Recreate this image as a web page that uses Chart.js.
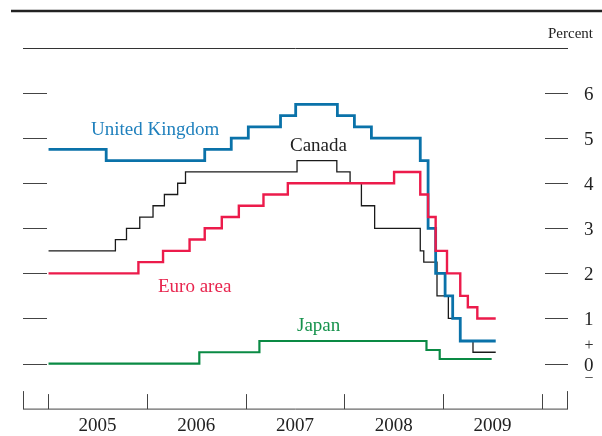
<!DOCTYPE html>
<html>
<head>
<meta charset="utf-8">
<script src="https://cdn.jsdelivr.net/npm/chart.js@4/dist/chart.umd.min.js"></script>
<style>
  body { margin: 0; background: #fff; }
  canvas { display: block; }
</style>
</head>
<body>
<canvas id="rates" width="602" height="436"></canvas>
<script>
// policy rate change dates and the new rate (last entry = end of the line)
const ukDates = ['2005-01-03', '2005-08-04', '2006-08-03', '2006-11-09', '2007-01-11', '2007-05-10', '2007-07-05',
  '2007-12-06', '2008-02-07', '2008-04-10', '2008-10-08', '2008-11-06', '2008-12-04', '2009-01-08',
  '2009-02-05', '2009-03-05', '2009-07-14'];
const ukRates = [4.75, 4.5, 4.75, 5.0, 5.25, 5.5, 5.75, 5.5, 5.25, 5.0, 4.5, 3.0, 2.0, 1.5, 1.0, 0.5, 0.5];

const canadaDates = ['2005-01-03', '2005-09-07', '2005-10-18', '2005-12-06', '2006-01-24', '2006-03-07', '2006-04-25',
  '2006-05-24', '2007-07-10', '2007-12-04', '2008-01-22', '2008-03-04', '2008-04-22', '2008-10-08',
  '2008-10-21', '2008-12-09', '2009-01-20', '2009-03-03', '2009-04-21', '2009-07-14'];
const canadaRates = [2.5, 2.75, 3.0, 3.25, 3.5, 3.75, 4.0, 4.25, 4.5, 4.25, 4.0, 3.5, 3.0, 2.5, 2.25, 1.5, 1.0, 0.5, 0.25, 0.25];

const euroDates = ['2005-01-03', '2005-12-01', '2006-03-02', '2006-06-08', '2006-08-03', '2006-10-05', '2006-12-07',
  '2007-03-08', '2007-06-06', '2008-07-03', '2008-10-08', '2008-11-06', '2008-12-04', '2009-01-15',
  '2009-03-05', '2009-04-02', '2009-05-07', '2009-07-14'];
const euroRates = [2.0, 2.25, 2.5, 2.75, 3.0, 3.25, 3.5, 3.75, 4.0, 4.25, 3.75, 3.25, 2.5, 2.0, 1.5, 1.25, 1.0, 1.0];

const japanDates = ['2005-01-03', '2006-07-14', '2007-02-21', '2008-10-31', '2008-12-19', '2009-06-29'];
const japanRates = [0, 0.25, 0.5, 0.3, 0.1, 0.1];

const yearTicks = [2005, 2006, 2007, 2008, 2009, 2010];
const yearLabels = [2005, 2006, 2007, 2008, 2009];
const percentTicks = [0, 1, 2, 3, 4, 5, 6];

function toYear(s) {
  const [y, m, d] = s.split('-').map(Number);
  const start = Date.UTC(y, 0, 1);
  const end = Date.UTC(y + 1, 0, 1);
  return y + (Date.UTC(y, m - 1, d) - start) / (end - start);
}
function series(dates, rates) {
  return dates.map((d, i) => ({ x: toYear(d), y: rates[i] }));
}

const serif = '"Liberation Serif", "DejaVu Serif", serif';

const decor = {
  id: 'decor',
  afterDraw(chart) {
    const ctx = chart.ctx;
    const area = chart.chartArea;
    const x = chart.scales.x;
    const y = chart.scales.y;
    ctx.save();

    // heavy rule at the very top
    ctx.strokeStyle = '#222';
    ctx.lineWidth = 2.5;
    ctx.beginPath();
    ctx.moveTo(11, 11);
    ctx.lineTo(602, 11);
    ctx.stroke();

    // thin rule on top of the plot
    ctx.lineWidth = 1;
    ctx.strokeStyle = '#333';
    ctx.beginPath();
    ctx.moveTo(area.left, area.top + 0.5);
    ctx.lineTo(area.right, area.top + 0.5);
    ctx.stroke();

    ctx.fillStyle = '#222';
    ctx.font = '15px ' + serif;
    ctx.textAlign = 'right';
    ctx.textBaseline = 'middle';
    ctx.fillText('Percent', 593, 34);

    // short tick marks at both sides
    ctx.strokeStyle = '#444';
    percentTicks.forEach(v => {
      const py = Math.round(y.getPixelForValue(v)) + 0.5;
      ctx.beginPath();
      ctx.moveTo(area.left, py);
      ctx.lineTo(area.left + 24, py);
      ctx.moveTo(area.right - 23, py);
      ctx.lineTo(area.right, py);
      ctx.stroke();
    });

    // bottom axis
    const by = area.bottom + 0.5;
    ctx.beginPath();
    ctx.moveTo(area.left, by);
    ctx.lineTo(area.right, by);
    ctx.moveTo(area.left + 0.5, by);
    ctx.lineTo(area.left + 0.5, by - 18);
    ctx.moveTo(area.right - 0.5, by);
    ctx.lineTo(area.right - 0.5, by - 18);
    yearTicks.forEach(t => {
      const px = Math.round(x.getPixelForValue(t)) + 0.5;
      ctx.moveTo(px, by);
      ctx.lineTo(px, by - 15);
    });
    ctx.stroke();

    // plus / minus around zero
    ctx.font = '16px ' + serif;
    ctx.textAlign = 'center';
    ctx.fillStyle = '#333';
    const zy = y.getPixelForValue(0);
    ctx.fillText('+', 589, zy - 18);
    ctx.fillText('\u2212', 589, zy + 15);

    // series names
    ctx.font = '19px ' + serif;
    ctx.textAlign = 'left';
    ctx.fillStyle = '#1f80bd';
    ctx.fillText('United Kingdom', 91, 130);
    ctx.fillStyle = '#222';
    ctx.fillText('Canada', 290, 146);
    ctx.fillStyle = '#e8264f';
    ctx.fillText('Euro area', 158, 287);
    ctx.fillStyle = '#16924c';
    ctx.fillText('Japan', 297, 326);

    ctx.restore();
  }
};

new Chart(document.getElementById('rates'), {
  type: 'line',
  data: {
    datasets: [
      { label: 'Japan', data: series(japanDates, japanRates), borderColor: '#0a8a44', borderWidth: 2.2 },
      { label: 'Euro area', data: series(euroDates, euroRates), borderColor: '#ec1b4b', borderWidth: 2.4 },
      { label: 'United Kingdom', data: series(ukDates, ukRates), borderColor: '#0a72a9', borderWidth: 2.8 },
      { label: 'Canada', data: series(canadaDates, canadaRates), borderColor: '#1a1a1a', borderWidth: 1.3 }
    ]
  },
  options: {
    responsive: false,
    animation: false,
    layout: { padding: { left: 23, top: 48, right: 0, bottom: 0 } },
    elements: { line: { stepped: 'before', tension: 0 }, point: { radius: 0 } },
    plugins: { legend: { display: false }, tooltip: { enabled: false } },
    scales: {
      x: {
        type: 'linear',
        min: 2004.747,
        max: 2010.263,
        grid: { display: false, drawTicks: false },
        border: { display: false },
        afterBuildTicks: s => { s.ticks = yearLabels.map(v => ({ value: v + 0.5 })); },
        afterFit: s => { s.height = 26; },
        ticks: {
          autoSkip: false,
          maxRotation: 0,
          padding: 6,
          color: '#222',
          font: { family: serif, size: 19 },
          callback: v => String(Math.floor(v))
        }
      },
      y: {
        type: 'linear',
        position: 'right',
        min: -1,
        max: 7,
        grid: { display: false, drawTicks: false },
        border: { display: false },
        afterBuildTicks: s => { s.ticks = percentTicks.map(v => ({ value: v })); },
        afterFit: s => { s.width = 34; },
        ticks: {
          padding: 16,
          labelOffset: 2,
          color: '#222',
          font: { family: serif, size: 19 },
          callback: v => String(v)
        }
      }
    }
  },
  plugins: [decor]
});
</script>
</body>
</html>
